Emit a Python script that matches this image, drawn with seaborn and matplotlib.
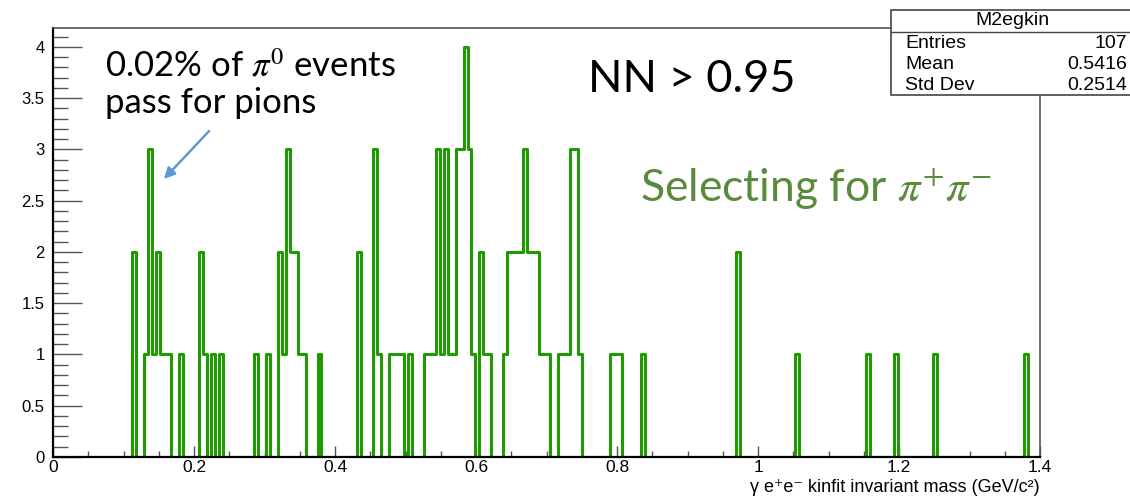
import numpy as np
import seaborn as sns
import matplotlib.pyplot as plt
from matplotlib.patches import Rectangle, FancyArrowPatch
from matplotlib.ticker import MultipleLocator, FuncFormatter

# bin centres (GeV/c^2) of the filled bins, 250 bins over 0-1.4
mass = [0.1148, 0.1316, 0.1372, 0.1428, 0.1484, 0.1540, 0.1596, 0.1652,
        0.1820, 0.2100, 0.2156, 0.2268, 0.2380,
        0.2884, 0.3052, 0.3220, 0.3276, 0.3332, 0.3388, 0.3444, 0.3500, 0.3556,
        0.3780, 0.4340, 0.4564, 0.4620,
        0.4788, 0.4844, 0.4900, 0.4956, 0.5068,
        0.5292, 0.5348, 0.5404, 0.5460, 0.5516, 0.5572, 0.5628, 0.5684,
        0.5740, 0.5796, 0.5852, 0.5908, 0.5964,
        0.6076, 0.6132, 0.6188, 0.6412, 0.6468, 0.6524, 0.6580, 0.6636, 0.6692,
        0.6748, 0.6804, 0.6860, 0.6916, 0.6972, 0.7028,
        0.7196, 0.7252, 0.7308, 0.7364, 0.7420, 0.7476,
        0.7924, 0.7980, 0.8036, 0.8372,
        0.9716, 1.0556, 1.1564, 1.1956, 1.2516, 1.3804]
counts = [2, 1, 3, 1, 2, 1, 1, 1,
          1, 2, 1, 1, 1,
          1, 1, 2, 1, 3, 2, 2, 1, 1,
          1, 2, 3, 1,
          1, 1, 1, 1, 1,
          1, 1, 1, 3, 1, 3, 1, 1,
          3, 3, 4, 3, 1,
          2, 1, 1, 1, 2, 2, 2, 2, 3,
          2, 2, 2, 1, 1, 1,
          1, 1, 1, 3, 3, 1,
          1, 1, 1, 1,
          2, 1, 1, 1, 1, 1]

stat_names = ["Entries", "Mean", "Std Dev"]
stat_values = ["107", "0.5416", "0.2514"]

plt.rcParams["font.family"] = ["Liberation Sans", "DejaVu Sans"]
plt.rcParams["mathtext.fontset"] = "stix"

W, H = 1130, 498
fig = plt.figure(figsize=(W / 100, H / 100), dpi=100)
ax = fig.add_axes([53 / W, 41 / H, 987 / W, 429 / H])

sns.histplot(x=mass, weights=counts, bins=250, binrange=(0, 1.4),
             element="step", fill=False, color="#1f9a00", linewidth=2.2, ax=ax)

ax.set_xlim(0, 1.4)
ax.set_ylim(0, 4.185)
ax.set_xlabel("")
ax.set_ylabel("")

ax.xaxis.set_major_locator(MultipleLocator(0.2))
ax.xaxis.set_minor_locator(MultipleLocator(0.05))
ax.yaxis.set_major_locator(MultipleLocator(0.5))
ax.yaxis.set_minor_locator(MultipleLocator(0.1))
fmt = FuncFormatter(lambda v, p: "%g" % round(v, 2))
ax.xaxis.set_major_formatter(fmt)
ax.yaxis.set_major_formatter(fmt)
ax.tick_params(axis="x", which="major", direction="in", length=8, width=1,
               labelsize=12.5, pad=2, color="#555555")
ax.tick_params(axis="x", which="minor", direction="in", length=4.3, width=1, color="#555555")
ax.tick_params(axis="y", which="major", direction="in", length=21, width=1,
               labelsize=12, pad=6, color="#555555")
ax.tick_params(axis="y", which="minor", direction="in", length=10.5, width=1, color="#555555")
for side in ["left", "bottom"]:
    ax.spines[side].set_linewidth(1.6)
    ax.spines[side].set_color("black")
for side in ["top", "right"]:
    ax.spines[side].set_linewidth(1.2)
    ax.spines[side].set_color("#555555")

fig.text(1040 / W, 1 - 487 / H, "γ e⁺e⁻ kinfit invariant mass (GeV/c²)",
         ha="right", va="center", fontsize=13)

# stats box
box = Rectangle((891 / W, 1 - 95 / H), 245 / W, 85 / H, transform=fig.transFigure,
                facecolor="white", edgecolor="#444444", linewidth=1.2, zorder=5)
fig.add_artist(box)
fig.add_artist(plt.Line2D([891 / W, 1], [1 - 32 / H, 1 - 32 / H],
                          transform=fig.transFigure, color="#444444", lw=1, zorder=6))
fig.text(1012 / W, 1 - 20 / H, "M2egkin", ha="center", va="center", fontsize=14, zorder=7)
for i, (n, v) in enumerate(zip(stat_names, stat_values)):
    y = 1 - (43 + 21 * i) / H
    fig.text(905 / W, y, n, ha="left", va="center", fontsize=14, zorder=7)
    fig.text(1127 / W, y, v, ha="right", va="center", fontsize=14, zorder=7)

# annotations
fig.text(105 / W, 1 - 66 / H, r"0.02% of $\pi^0$ events", ha="left", va="center",
         fontsize=25, family=["Lato", "DejaVu Sans"])
fig.text(105 / W, 1 - 103 / H, "pass for pions", ha="left", va="center",
         fontsize=25, family=["Lato", "DejaVu Sans"])
fig.text(588 / W, 1 - 80 / H, "NN > 0.95", ha="left", va="center",
         fontsize=32.5, family=["Lato", "DejaVu Sans"])
fig.text(640 / W, 1 - 188 / H, r"Selecting for $\pi^{+}\pi^{-}$", ha="left", va="center",
         fontsize=32, color="#5a8a3c", family=["Lato", "DejaVu Sans"])
arrow = FancyArrowPatch((211 / W, 1 - 129 / H), (162 / W, 1 - 181 / H),
                        transform=fig.transFigure, arrowstyle="-|>", mutation_scale=16,
                        color="#5b9bd5", lw=1.8)
fig.add_artist(arrow)

fig.savefig("out.png", dpi=100)
plt.close(fig)
